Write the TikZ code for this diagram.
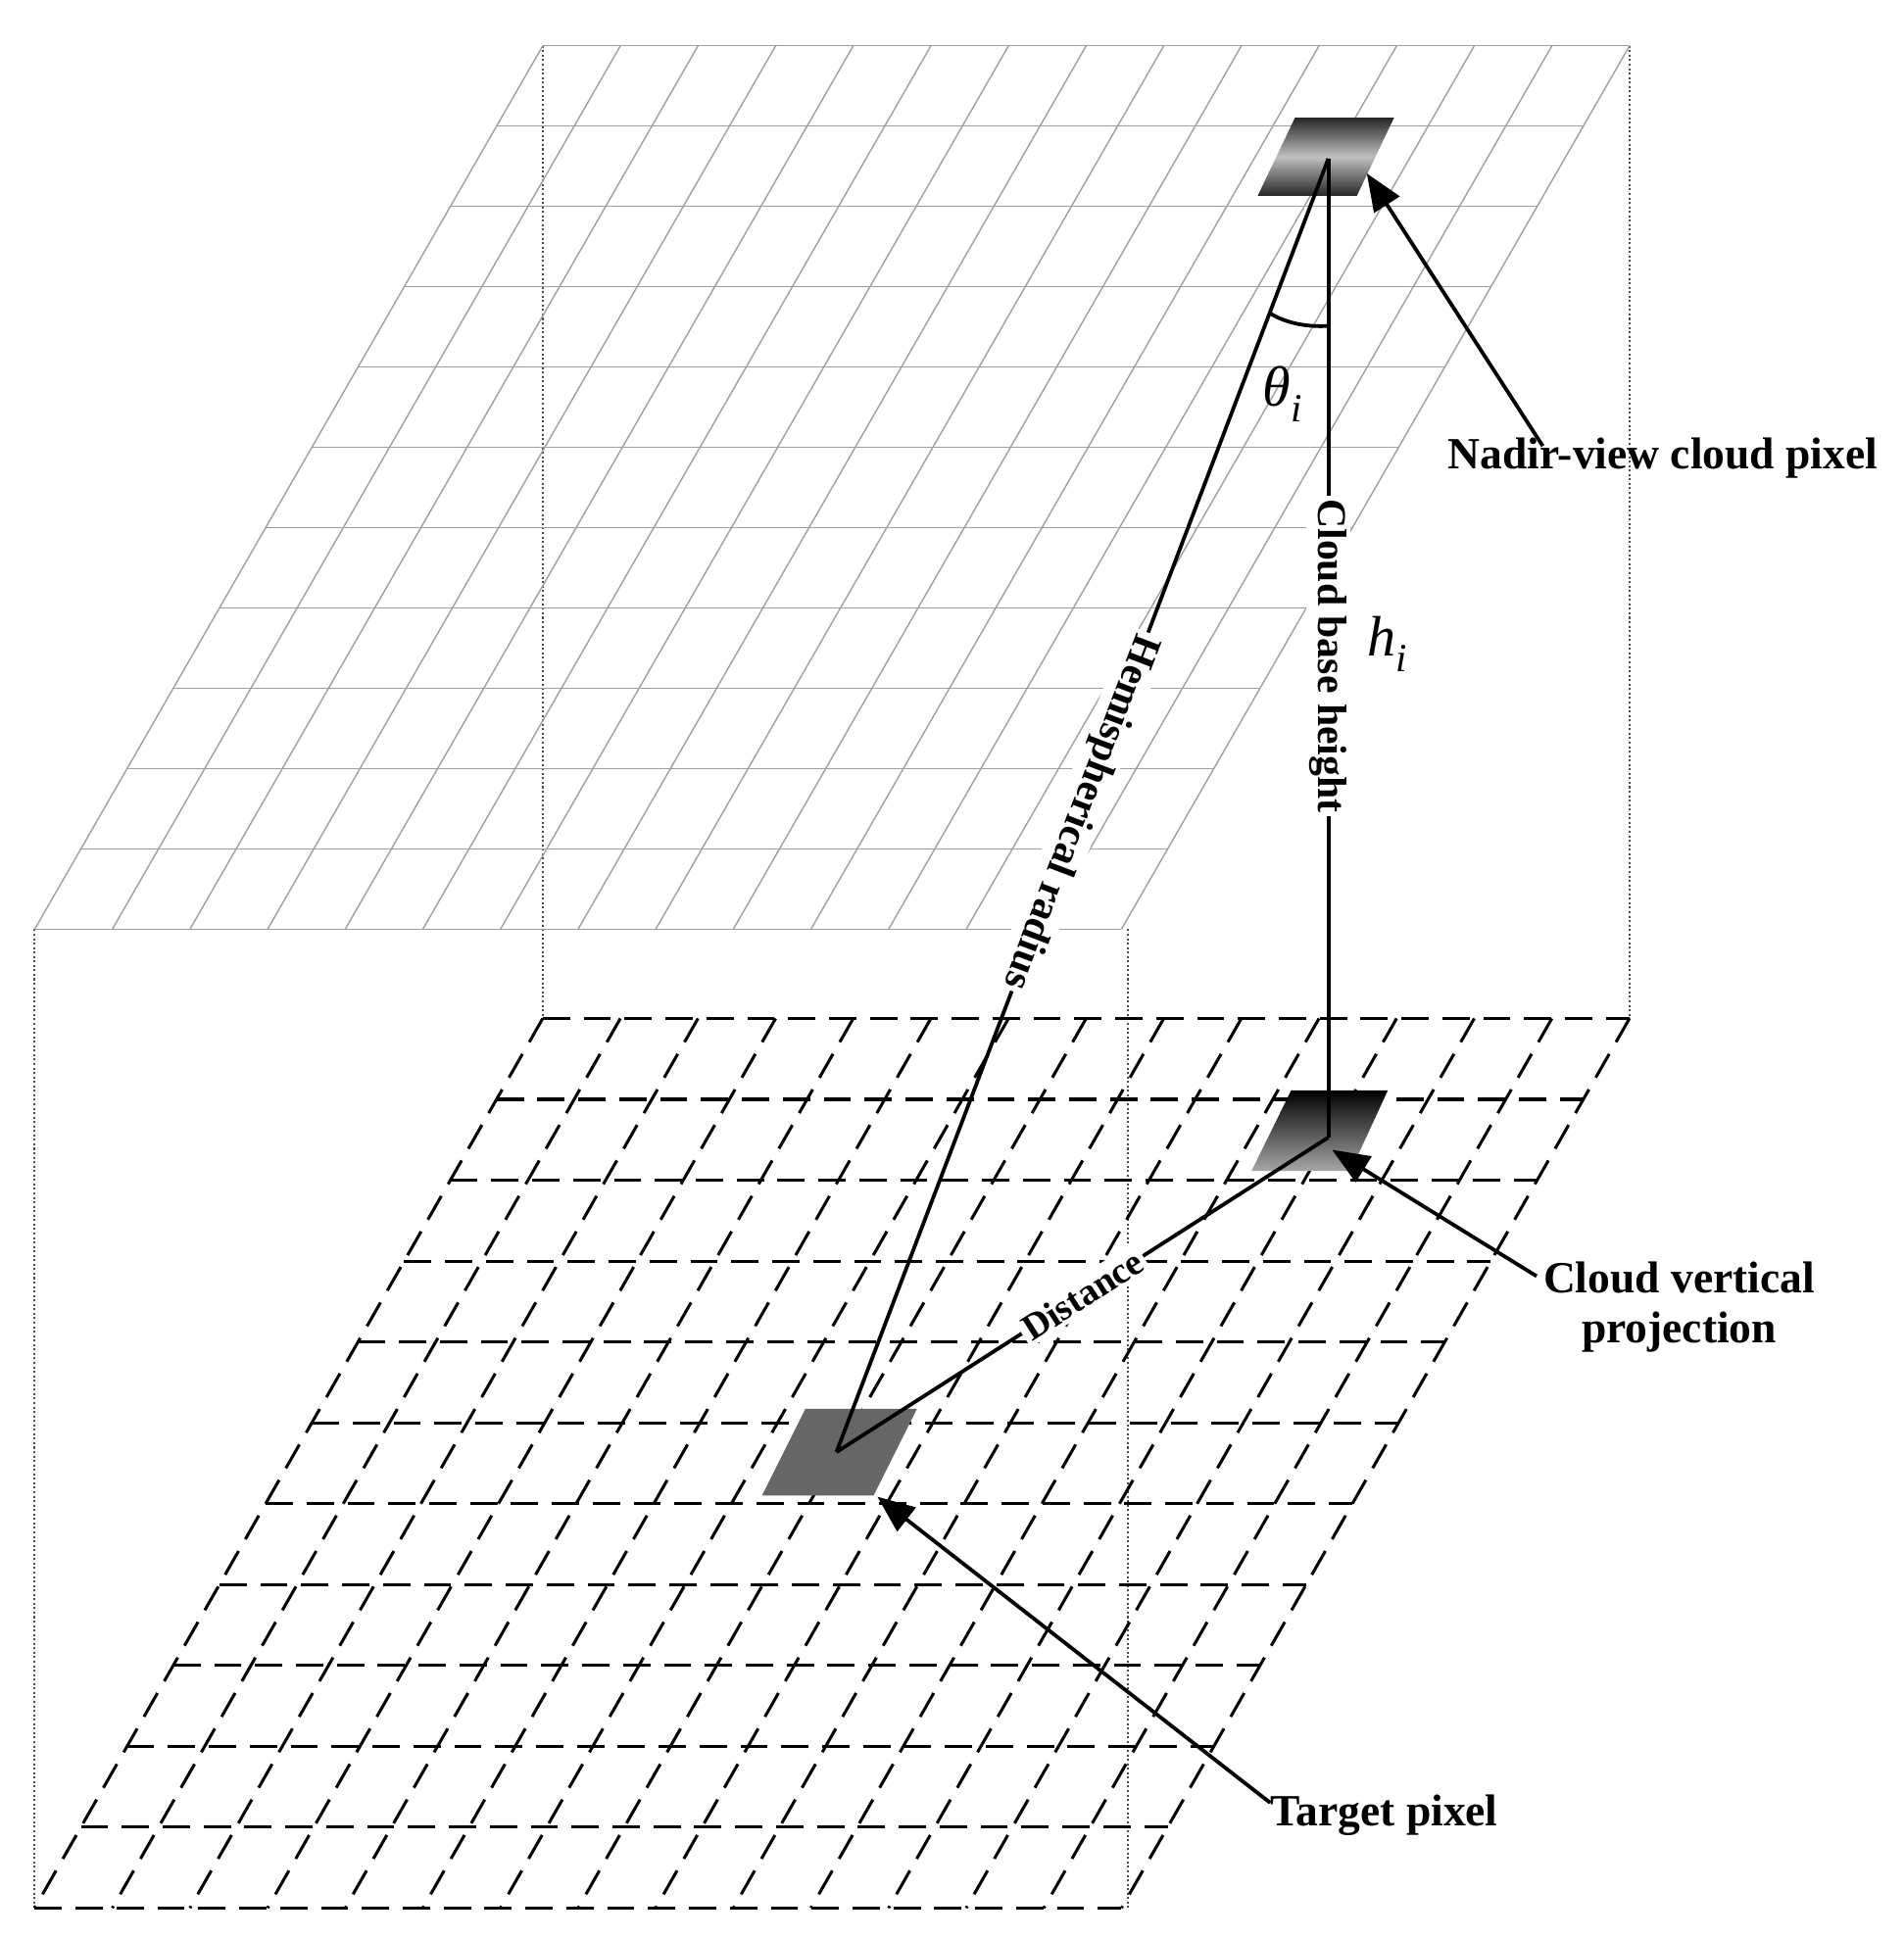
\documentclass[tikz,border=0pt]{standalone}
\usepackage{fontspec}
\setmainfont{Liberation Serif}
\usetikzlibrary{arrows.meta}
\begin{document}
\begin{tikzpicture}[x=1pt,y=-1pt,
  upgrid/.style={gray!75,line width=1.1pt},
  lowgrid/.style={black,line width=2.4pt,dash pattern=on 22pt off 11pt},
  guide/.style={black!70,line width=1.6pt,dotted},
  ray/.style={black,line width=3pt},
  pointer/.style={black,line width=3pt,-{Triangle[length=30pt,width=24pt]}},
  lbl/.style={font=\bfseries\fontsize{36}{40}\selectfont,inner sep=2pt},
  slanted/.style={font=\bfseries\fontsize{33}{38}\selectfont,fill=white,inner sep=3pt}]
\useasboundingbox (0,0) rectangle (1536,1565);
% guides
\draw[guide] (28,750) -- (28,1540);
\draw[guide] (910,750) -- (910,1540);
\draw[guide] (438,37) -- (438,822);
\draw[guide] (1315,37) -- (1315,822);
% upper grid
\foreach \i in {0,...,11}{
  \draw[upgrid] ({438-\i*410/11},{37+\i*713/11}) -- ({1315-\i*410/11},{37+\i*713/11});}
\foreach \j in {0,...,14}{
  \draw[upgrid] ({438+\j*877/14},37) -- ({28+\j*877/14},750);}
% lower grid
\foreach \i in {0,...,11}{
  \draw[lowgrid] ({438-\i*410/11},{822+\i*718/11}) -- ({1315-\i*410/11},{822+\i*718/11});}
\foreach \j in {0,...,14}{
  \draw[lowgrid] ({438+\j*877/14},822) -- ({28+\j*877/14},1540);}
% pixels
\shade[top color=black!85,bottom color=black!85,middle color=white!75!black]
  (1045,95) -- (1125,95) -- (1095,158) -- (1015,158) -- cycle;
\shade[top color=black,bottom color=black!35]
  (1042,880) -- (1120,880) -- (1090,945) -- (1010,945) -- cycle;
\fill[black!60] (650,1137) -- (740,1137) -- (705,1207) -- (615,1207) -- cycle;
\coordinate (cloud) at (1072,128);
\coordinate (proj) at (1072,918);
\coordinate (target) at (675,1172);
% rays
\draw[ray] (cloud) -- (target) node[pos=0.505,slanted,rotate=-110.8] (hr) {Hemispherical radius};
\draw[ray] (cloud) -- (proj) node[pos=0.508,slanted,rotate=-90] (cbh) {Cloud base height};
\draw[ray] (proj) -- (target) node[pos=0.5,slanted,rotate=32.6,font=\bfseries\fontsize{30}{34}\selectfont] (dist) {Distance};
\draw[ray] (1025,253) .. controls (1040,262) and (1058,264) .. (1072,263);
\node[font=\itshape\fontsize{46}{50}\selectfont] (theta) at (1035,318) {θ\textsubscript{i}};
\node[font=\itshape\fontsize{46}{50}\selectfont] (h) at (1120,520) {h\textsubscript{i}};
% pointers
\node[lbl] (nad) at (1342,370) {Nadir-view cloud pixel};
\node[lbl,align=center] (cvp) at (1355,1055) {Cloud vertical\\projection};
\node[lbl] (tp) at (1117,1465) {Target pixel};
\coordinate (nadtip) at (1103,140);
\coordinate (cvptip) at (1075,928);
\coordinate (tptip) at (708,1208);
\draw[pointer] (1245,360) -- (nadtip);
\draw[pointer] (1240,1030) -- (cvptip);
\draw[pointer] (1025,1455) -- (tptip);
\end{tikzpicture}
\end{document}
